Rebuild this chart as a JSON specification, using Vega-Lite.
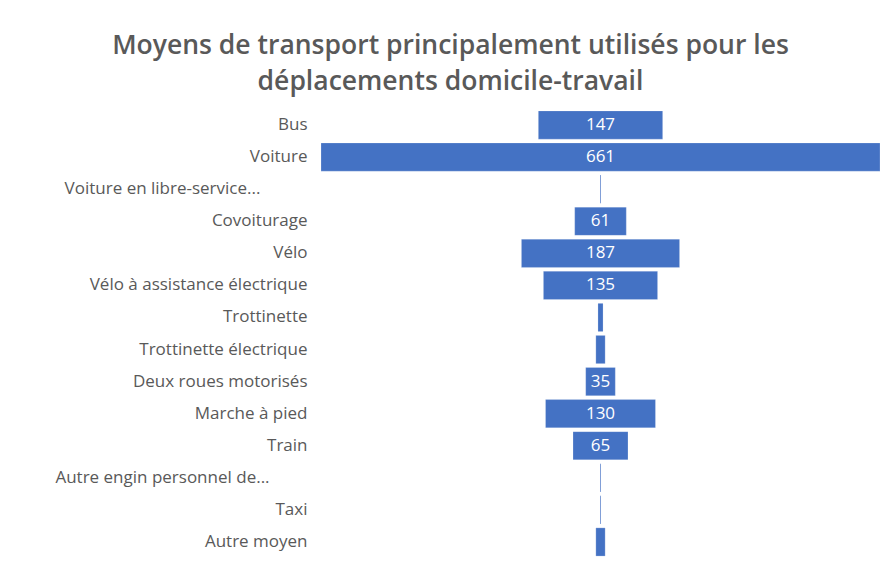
{
  "$schema": "https://vega.github.io/schema/vega-lite/v6.json",
  "autosize": {"type": "none"},
  "width": 559,
  "height": 449,
  "padding": {"left": 321, "top": 109, "right": 8, "bottom": 6},
  "background": "white",
  "title": {
    "text": ["Moyens de transport principalement utilisés pour les", "déplacements domicile-travail"],
    "font": "Open Sans",
    "fontSize": 26.5,
    "fontWeight": 600,
    "color": "#595959",
    "lineHeight": 36,
    "anchor": "middle",
    "frame": "group",
    "dx": -150,
    "offset": 14
  },
  "data": {
    "values": [
      {"mode": "Bus", "value": 147},
      {"mode": "Voiture", "value": 661},
      {"mode": "Voiture en libre-service...", "value": 1},
      {"mode": "Covoiturage", "value": 61},
      {"mode": "Vélo", "value": 187},
      {"mode": "Vélo à assistance électrique", "value": 135},
      {"mode": "Trottinette", "value": 6},
      {"mode": "Trottinette électrique", "value": 11},
      {"mode": "Deux roues motorisés", "value": 35},
      {"mode": "Marche à pied", "value": 130},
      {"mode": "Train", "value": 65},
      {"mode": "Autre engin personnel de...", "value": 1},
      {"mode": "Taxi", "value": 1},
      {"mode": "Autre moyen", "value": 11}
    ]
  },
  "encoding": {
    "y": {
      "field": "mode",
      "type": "nominal",
      "sort": null,
      "scale": {"paddingInner": 0.12, "paddingOuter": 0.06},
      "axis": {
        "title": null,
        "domain": false,
        "ticks": false,
        "labelFont": "Open Sans",
        "labelFontSize": 17,
        "labelColor": "#595959",
        "labelLimit": 0,
        "labelAlign": {"condition": {"test": "indexof(datum.value, '...') >= 0", "value": "center"}, "value": "right"},
        "labelPadding": {"condition": {"test": "indexof(datum.value, '...') >= 0", "value": 159}, "value": 14}
      }
    }
  },
  "layer": [
    {
      "mark": {"type": "bar", "color": "#4472C4", "stroke": "#ffffff", "strokeWidth": 0.5, "strokeOpacity": 0.4},
      "encoding": {
        "x": {"field": "value", "type": "quantitative", "stack": "center", "scale": {"domain": [0, 661], "nice": false, "zero": false}, "axis": null}
      }
    },
    {
      "transform": [{"filter": "datum.value >= 20"}],
      "mark": {"type": "text", "color": "white", "font": "Open Sans", "fontSize": 17, "baseline": "middle", "align": "center"},
      "encoding": {
        "x": {"datum": 330.5, "type": "quantitative"},
        "text": {"field": "value", "type": "quantitative"}
      }
    }
  ],
  "config": {"view": {"stroke": null}}
}
